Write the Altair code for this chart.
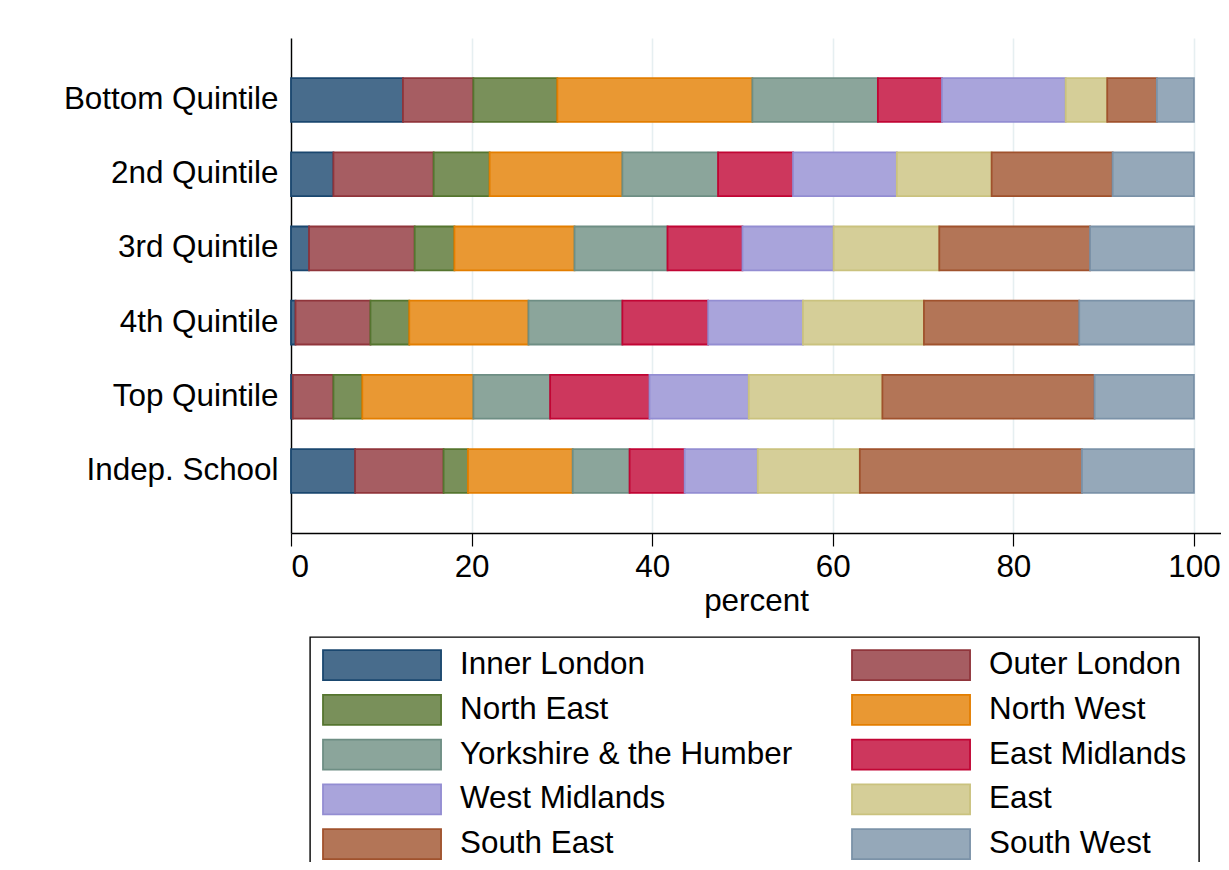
import altair as alt
import pandas as pd

regions = ["Inner London", "Outer London", "North East", "North West",
           "Yorkshire & the Humber", "East Midlands", "West Midlands",
           "East", "South East", "South West"]
groups = ["Bottom Quintile", "2nd Quintile", "3rd Quintile",
          "4th Quintile", "Top Quintile", "Indep. School"]

bottom_q = [12.4, 7.8, 9.3, 21.6, 13.9, 7.1, 13.7, 4.6, 5.5, 4.1]
second_q = [4.7, 11.1, 6.2, 14.7, 10.6, 8.3, 11.5, 10.5, 13.4, 9.0]
third_q = [2.0, 11.7, 4.4, 13.3, 10.3, 8.3, 10.1, 11.7, 16.7, 11.5]
fourth_q = [0.5, 8.3, 4.3, 13.2, 10.4, 9.5, 10.5, 13.4, 17.2, 12.7]
top_q = [0.2, 4.5, 3.2, 12.3, 8.5, 11.0, 11.0, 14.8, 23.5, 11.0]
indep = [7.1, 9.8, 2.7, 11.6, 6.3, 6.1, 8.1, 11.3, 24.6, 12.4]

fills = ["#486c8c", "#a65d62", "#79905a", "#e99833", "#8ba59b",
         "#cd375d", "#a9a4db", "#d5ce98", "#b37557", "#95a8b9"]
strokes = ["#1a476f", "#90353b", "#55752f", "#e37e00", "#6e8e84",
           "#c10534", "#938dd2", "#cac27e", "#a0522d", "#7b92a8"]

rows = []
for g, vals in zip(groups, [bottom_q, second_q, third_q, fourth_q, top_q, indep]):
    for i, (r, v) in enumerate(zip(regions, vals)):
        rows.append({"group": g, "region": r, "idx": i, "share": v})
df = pd.DataFrame(rows)

font = "Liberation Sans"
fs = 31.4

bars = alt.Chart(df).mark_bar(strokeWidth=1.8).encode(
    x=alt.X("share:Q", stack="zero", title="percent",
            scale=alt.Scale(domain=[0, 103], nice=False, zero=True),
            axis=alt.Axis(values=[0, 20, 40, 60, 80, 100], grid=True,
                          gridColor="#e6eff1", gridWidth=1.6,
                          tickSize=13, tickColor="black", tickWidth=1.2,
                          domainColor="black", domainWidth=1.4,
                          labelPadding=5, titlePadding=3)),
    y=alt.Y("group:N", sort=groups, title=None,
            scale=alt.Scale(paddingInner=0.41, paddingOuter=0.54),
            axis=alt.Axis(ticks=False, grid=False, domainColor="black",
                          domainWidth=1.4, labelPadding=13, labelLimit=0)),
    fill=alt.Fill("region:N", scale=alt.Scale(domain=regions, range=fills),
                  legend=alt.Legend(title=None, direction="horizontal")),
    stroke=alt.Stroke("region:N", scale=alt.Scale(domain=regions, range=strokes),
                      legend=alt.Legend(title=None, direction="horizontal")),
    order=alt.Order("idx:Q"),
)

chart = bars.properties(
    width=930,
    height=495,
    autosize=alt.AutoSizeParams(type="none"),
    padding={"left": 283, "top": 30, "right": 0, "bottom": 329},
).configure_view(
    stroke=None
).configure_axis(
    labelFont=font, titleFont=font, labelFontSize=fs, titleFontSize=fs,
    labelColor="black", titleColor="black", titleFontWeight="normal",
).configure_legend(
    orient="none", legendX=19, legendY=599,
    columns=2, columnPadding=55, rowPadding=6.8, padding=12,
    strokeColor="black", strokeWidth=1.4,
    symbolType="M-1,-1H6.87V1H-1Z", symbolSize=900,
    symbolStrokeWidth=1.8, symbolOpacity=1,
    labelFont=font, labelFontSize=fs, labelColor="black",
    labelOffset=106, labelLimit=0,
)

chart.save("out.html", embed_options={"renderer": "svg", "actions": False})
